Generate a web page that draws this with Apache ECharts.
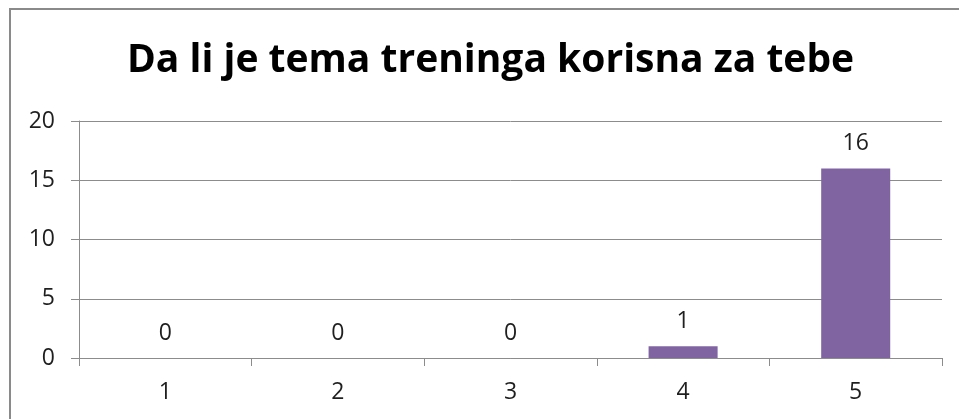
<!DOCTYPE html>
<html><head><meta charset="utf-8">
<script src="https://cdn.jsdelivr.net/npm/echarts@6/dist/echarts.min.js"></script>
<style>html,body{margin:0;padding:0;background:#fff}#c{width:959px;height:419px}</style>
</head><body><div id="c"></div>
<script>
const titleText = 'Da li je tema treninga korisna za tebe';
const categories = ['1', '2', '3', '4', '5'];
const values = [0, 0, 0, 1, 16];
const yTicks = [0, 5, 10, 15, 20];

const chart = echarts.init(document.getElementById('c'), null, {renderer: 'canvas'});
chart.setOption({
  animation: false,
  backgroundColor: '#fff',
  graphic: [{
    type: 'rect', shape: {x: 10, y: 9, width: 980, height: 440},
    style: {fill: 'none', stroke: '#8a8a8a', lineWidth: 2}, silent: true
  }],
  title: {
    text: titleText, left: 122, top: 36,
    textStyle: {fontFamily: 'Open Sans', fontWeight: 'bold', fontSize: 39, color: '#000'}
  },
  grid: {left: 79, right: 17, top: 121, bottom: 61, containLabel: false},
  xAxis: {
    type: 'category', data: categories,
    axisLine: {lineStyle: {color: '#8c8c8c', width: 1}},
    axisTick: {show: true, length: 8, alignWithLabel: false, lineStyle: {color: '#8c8c8c'}},
    axisLabel: {fontFamily: 'Open Sans', fontSize: 23, color: '#1f1f1f', margin: 23}
  },
  yAxis: {
    type: 'value', min: yTicks[0], max: yTicks[yTicks.length - 1], interval: 5,
    axisLine: {show: true, lineStyle: {color: '#8c8c8c'}},
    axisTick: {show: true, length: 8, lineStyle: {color: '#8c8c8c'}},
    splitLine: {lineStyle: {color: '#8c8c8c', width: 1}},
    axisLabel: {fontFamily: 'Open Sans', fontSize: 23, color: '#1f1f1f', margin: 24}
  },
  series: [{
    type: 'bar', data: values, barWidth: '40%',
    itemStyle: {color: '#8064A2'},
    label: {show: true, position: 'top', distance: 13, fontFamily: 'Open Sans', fontSize: 23, color: '#1f1f1f'}
  }]
});
</script></body></html>
